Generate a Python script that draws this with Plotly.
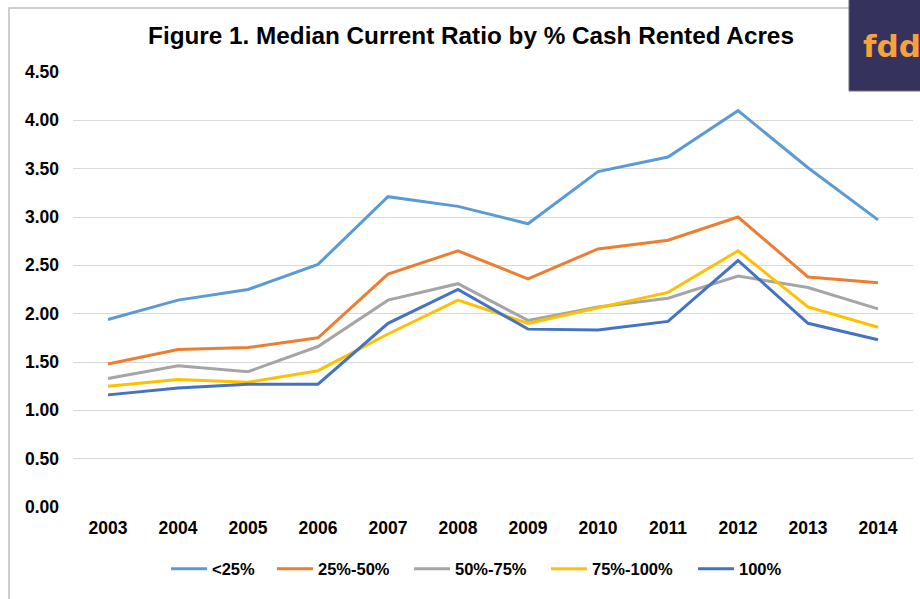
import plotly.graph_objects as go

years = ["2003", "2004", "2005", "2006", "2007", "2008", "2009", "2010", "2011", "2012", "2013", "2014"]
lt25 = [1.94, 2.14, 2.25, 2.51, 3.21, 3.11, 2.93, 3.47, 3.62, 4.10, 3.51, 2.97]
p25_50 = [1.48, 1.63, 1.65, 1.75, 2.41, 2.65, 2.36, 2.67, 2.76, 3.00, 2.38, 2.32]
p50_75 = [1.33, 1.46, 1.40, 1.66, 2.14, 2.31, 1.93, 2.07, 2.16, 2.39, 2.27, 2.05]
p75_100 = [1.25, 1.32, 1.29, 1.41, 1.79, 2.14, 1.90, 2.06, 2.22, 2.65, 2.07, 1.86]
p100 = [1.16, 1.23, 1.27, 1.27, 1.90, 2.25, 1.84, 1.83, 1.92, 2.55, 1.90, 1.73]

series = [
    ("<25%", lt25, "#5B9BD5"),
    ("25%-50%", p25_50, "#ED7D31"),
    ("50%-75%", p50_75, "#A5A5A5"),
    ("75%-100%", p75_100, "#FFC000"),
    ("100%", p100, "#4472C4"),
]
# left edge (page px) of each legend line sample
legend_starts = [173, 279, 416, 553, 700]

FONT = "Arial, 'Liberation Sans', sans-serif"

W, H = 920, 599
L, R, T, B = 73, 7, 72, 92
pw, ph = W - L - R, H - T - B

def px(x):
    return (x - L) / pw

def py(y):
    return (H - B - y) / ph

fig = go.Figure()
legend_layouts = {}
for i, (name, vals, color) in enumerate(series):
    lg = "legend" if i == 0 else f"legend{i + 1}"
    fig.add_trace(go.Scatter(x=years, y=vals, name=name, mode="lines", showlegend=True,
                             line=dict(color=color, width=3), legend=lg))
    legend_layouts[lg] = dict(
        orientation="h", x=px(legend_starts[i] - 7), xanchor="left",
        y=py(569), yanchor="middle",
        font=dict(family=FONT, size=16.5, color="#000000", weight="bold"),
        itemwidth=36, bgcolor="rgba(0,0,0,0)")

fig.update_layout(
    width=W, height=H,
    showlegend=True,
    margin=dict(l=L, r=R, t=T, b=B),
    paper_bgcolor="white", plot_bgcolor="white",
    font=dict(family=FONT, color="#000000", size=16),
    title=dict(text="<b>Figure 1. Median Current Ratio by % Cash Rented Acres</b>",
               x=471 / W, xref="container", xanchor="center",
               y=1 - 35 / H, yref="container", yanchor="middle",
               font=dict(family=FONT, size=24.3, color="#000000")),
    xaxis=dict(type="category", range=[-0.5, len(years) - 0.5], showgrid=False,
               zeroline=False, showline=False,
               tickfont=dict(family=FONT, size=17.5, color="#000000", weight="bold"),
               ticklabelstandoff=8),
    yaxis=dict(range=[0, 4.5], dtick=0.5, tickformat=".2f", showgrid=True,
               gridcolor="#D9D9D9", gridwidth=1, zeroline=False, showline=False,
               tickfont=dict(family=FONT, size=17.5, color="#000000", weight="bold"),
               ticklabelstandoff=13),
    shapes=[
        dict(type="rect", xref="paper", yref="paper",
             x0=px(9), x1=px(935), y0=py(615), y1=py(8),
             line=dict(color="#BFBFBF", width=1.5), fillcolor="rgba(0,0,0,0)", layer="below"),
        dict(type="rect", xref="paper", yref="paper",
             x0=px(849), x1=px(935), y0=py(91), y1=py(-5),
             line=dict(color="#6E6C8A", width=1), fillcolor="#35325E", layer="above"),
    ],
    annotations=[
        dict(text="<b>fdd</b>", xref="paper", yref="paper", x=px(861), y=py(46),
             xanchor="left", yanchor="middle", showarrow=False,
             font=dict(family="'DejaVu Sans', sans-serif", size=31, color="#F9A13A")),
    ],
    **legend_layouts,
)

fig.write_html("out.html", config={"displayModeBar": False},
               post_script="document.body.style.margin='0';document.body.style.overflow='hidden';")
